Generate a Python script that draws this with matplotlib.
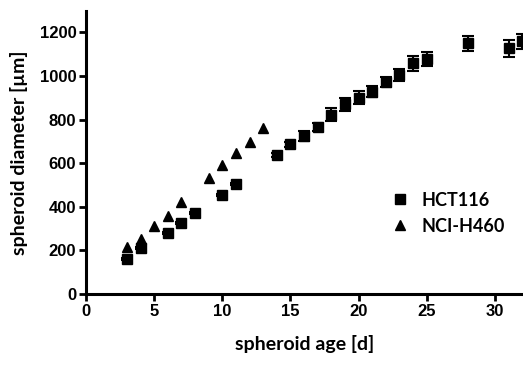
import matplotlib
matplotlib.use("Agg")
import matplotlib.pyplot as plt
from matplotlib.lines import Line2D

# HCT116 (squares, with error bars)
hct_age = [3, 4, 6, 7, 8, 10, 11, 14, 15, 16, 17, 18, 19, 20, 21, 22, 23, 24, 25, 28, 31, 32]
hct_diam = [160, 210, 278, 327, 370, 454, 505, 638, 686, 725, 766, 823, 870, 901, 928, 972, 1003, 1058, 1076, 1150, 1127, 1160]
hct_err = [4, 4, 5, 5, 5, 6, 6, 8, 10, 22, 18, 28, 30, 28, 26, 24, 28, 35, 32, 35, 38, 35]

# NCI-H460 (triangles)
nci_age = [3, 4, 5, 6, 7, 9, 10, 11, 12, 13]
nci_diam = [217, 254, 312, 358, 422, 531, 592, 648, 696, 763]

xticks = [0, 5, 10, 15, 20, 25, 30]
yticks = [0, 200, 400, 600, 800, 1000, 1200]

fig = plt.figure(figsize=(5.23, 3.67), dpi=100)
ax = fig.add_axes([0.1644, 0.199, 0.8366, 0.772])

ax.errorbar(hct_age, hct_diam, yerr=hct_err, fmt='s', color='black', ms=7,
            capsize=4, elinewidth=1.5, capthick=1.5, label='HCT116')
ax.plot(nci_age, nci_diam, '^', color='black', ms=7, linestyle='none', label='NCI-H460')

ax.set_xlim(0, 32.1)
ax.set_ylim(0, 1300)
ax.set_xticks(xticks)
ax.set_yticks(yticks)

for s in ['top', 'right']:
    ax.spines[s].set_visible(False)
for s in ['left', 'bottom']:
    ax.spines[s].set_linewidth(2.2)
ax.tick_params(direction='out', length=5, width=2, pad=2)
for lbl in ax.get_xticklabels() + ax.get_yticklabels():
    lbl.set_fontfamily('Liberation Sans')
    lbl.set_fontweight('bold')
    lbl.set_fontsize(12)

ax.set_xlabel('spheroid age [d]', fontfamily='Lato', fontweight='bold', fontsize=14, labelpad=12)
ax.set_ylabel('spheroid diameter [µm]', fontfamily='Lato', fontweight='bold', fontsize=14, labelpad=8)

h = [Line2D([], [], marker='s', color='black', ls='none', ms=7),
     Line2D([], [], marker='^', color='black', ls='none', ms=7)]
leg = ax.legend(h, ['HCT116', 'NCI-H460'], loc='upper left', bbox_to_anchor=(0.655, 0.418),
                frameon=False, handletextpad=0.6, labelspacing=0.5, handlelength=1.2,
                prop={'family': 'Lato', 'weight': 'bold', 'size': 13})

fig.savefig('out.png', dpi=100)
